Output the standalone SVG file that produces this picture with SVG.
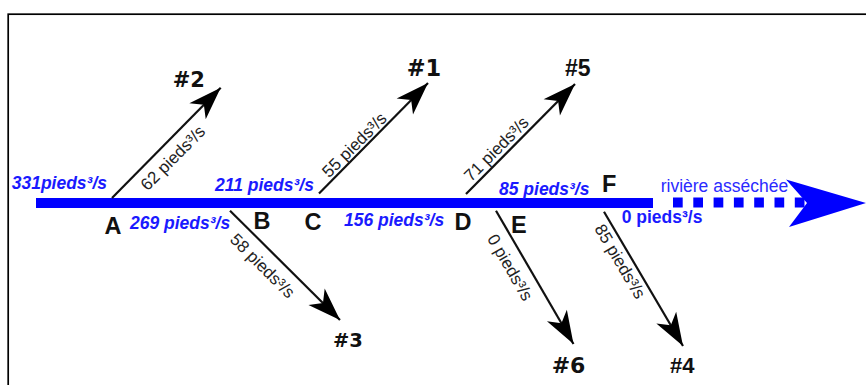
<svg xmlns="http://www.w3.org/2000/svg" width="866" height="385" viewBox="0 0 866 385">
<defs>
<style>
.frame{fill:none;stroke:#000;stroke-width:1.7}
.river{stroke:#0000ff;stroke-width:10;fill:none}
.dry{stroke:#0000ff;stroke-width:10;fill:none;stroke-dasharray:9.7 10.6}
.branch{stroke:#111;stroke-width:2.2;fill:none;marker-end:url(#ah)}
.flow{font-family:"Liberation Sans",Arial,sans-serif;font-size:17.5px;font-weight:bold;font-style:italic;fill:#1a1aff}
.flow0{font-family:"Liberation Sans",Arial,sans-serif;font-size:17.5px;font-weight:bold;fill:#1a1aff}
.dryt{font-family:"Liberation Sans",Arial,sans-serif;font-size:17.5px;fill:#2a2aff}
.lbl{font-family:"Liberation Sans",Arial,sans-serif;font-size:17px;fill:#222;text-anchor:middle}
.pt{font-family:"Liberation Sans",Arial,sans-serif;font-size:23.5px;font-weight:bold;fill:#111}
.dv{font-family:"DejaVu Sans",sans-serif;font-weight:bold;fill:#111}
.ls{font-family:"Liberation Sans",Arial,sans-serif;font-weight:bold;fill:#111}
</style>
<marker id="ah" markerUnits="userSpaceOnUse" orient="auto" viewBox="-34 -13 35 26" markerWidth="35" markerHeight="26" refX="0" refY="0">
<path d="M0,0 L-33,-11.5 L-24,0 L-33,11.5 Z" fill="#000"/>
</marker>
</defs>
<rect class="frame" x="8.2" y="14.2" width="880" height="400"/>
<g id="connectors">
<line class="river" x1="36" y1="203" x2="653" y2="203"/>
<line class="dry" x1="673" y1="202.5" x2="806" y2="202.5"/>
<path d="M786,179.5 L866,203 L789,227 L807,203 Z" fill="#0000ff"/>
<line class="branch" x1="112" y1="198" x2="220.7" y2="87.7"/>
<line class="branch" x1="319" y1="193.5" x2="428" y2="83"/>
<line class="branch" x1="466" y1="194" x2="575" y2="84"/>
<line class="branch" x1="230" y1="210.7" x2="340" y2="320"/>
<line class="branch" x1="496" y1="210.7" x2="573.5" y2="344"/>
<line class="branch" x1="604" y1="211.7" x2="683" y2="346"/>
</g>
<g id="flows">
<text class="flow" x="11.7" y="188.5">331pieds³/s</text>
<text class="flow" x="215" y="191">211 pieds³/s</text>
<text class="flow" x="130" y="228.5">269 pieds³/s</text>
<text class="flow" x="344" y="225.5">156 pieds³/s</text>
<text class="flow" x="499" y="195">85 pieds³/s</text>
<text class="flow0" x="621.7" y="223">0 pieds³/s</text>
<text class="dryt" x="660.7" y="192">rivière asséchée</text>
</g>
<g id="branch-labels">
<text class="lbl" transform="translate(173,158) rotate(-45)" dy="0.33em">62 pieds³/s</text>
<text class="lbl" transform="translate(354.5,145) rotate(-45)" dy="0.33em">55 pieds³/s</text>
<text class="lbl" transform="translate(496.5,149) rotate(-45)" dy="0.33em">71 pieds³/s</text>
<text class="lbl" transform="translate(262.5,266) rotate(45)" dy="0.33em">58 pieds³/s</text>
<text class="lbl" transform="translate(510,267.5) rotate(60)" dy="0.33em">0 pieds³/s</text>
<text class="lbl" transform="translate(620,261.5) rotate(59.5)" dy="0.33em">85 pieds³/s</text>
</g>
<g id="node-A"><text class="pt" x="104.5" y="234">A</text></g>
<g id="node-B"><text class="pt" x="253.5" y="229">B</text></g>
<g id="node-C"><text class="pt" x="304.5" y="230">C</text></g>
<g id="node-D"><text class="pt" x="454.5" y="230">D</text></g>
<g id="node-E"><text class="pt" x="511" y="232.7">E</text></g>
<g id="node-F"><text class="pt" x="602" y="191.7">F</text></g>
<g id="node-2"><text class="dv" x="172.7" y="87.3" font-size="21">#2</text></g>
<g id="node-1"><text class="dv" x="406.7" y="76" font-size="22.5">#1</text></g>
<g id="node-5"><text class="ls" x="565" y="76" font-size="23">#5</text></g>
<g id="node-3"><text class="dv" x="333" y="346.7" font-size="19.5">#3</text></g>
<g id="node-6"><text class="dv" x="551.7" y="373" font-size="22">#6</text></g>
<g id="node-4"><text class="ls" x="670" y="373" font-size="22">#4</text></g>
</svg>
